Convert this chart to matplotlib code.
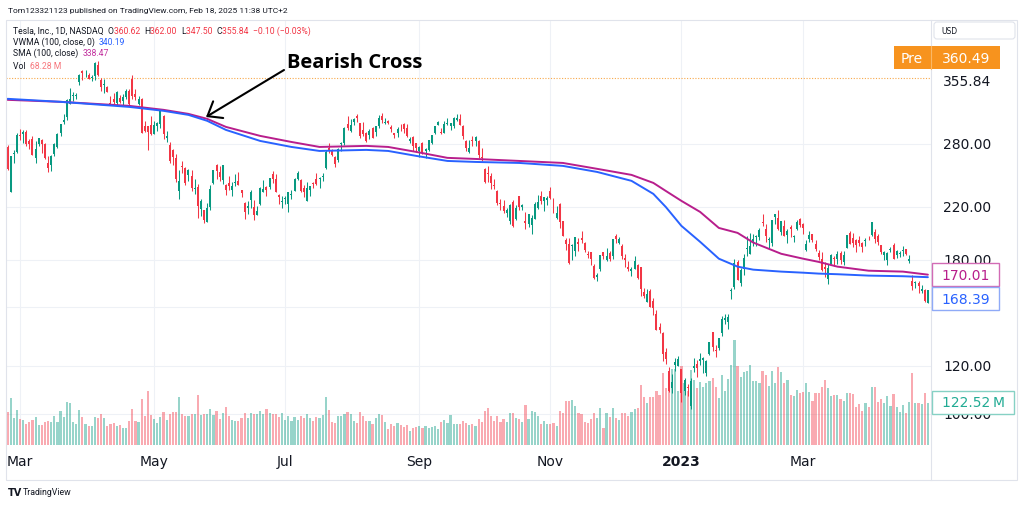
#============================================================================
# TSLA daily candles with SMA(100) / VWMA(100) and volume, TradingView style
#============================================================================
import numpy as np
import pandas as pd
import matplotlib
matplotlib.use('Agg')
import matplotlib.pyplot as plt
import matplotlib.transforms as mtransforms
from matplotlib.patches import Rectangle, FancyBboxPatch

#- Trading days shown (Feb 23 2022 .. Apr 27 2023)
holidays = ['2022-04-15', '2022-05-30', '2022-06-20', '2022-07-04', '2022-09-05',
            '2022-11-24', '2022-12-26', '2023-01-02', '2023-01-16', '2023-02-20',
            '2023-04-07']
dates = pd.bdate_range('2022-02-23', '2023-04-27', freq='C', holidays=holidays)

#- Daily OHLC and volume (millions), one row per month
open_ = [
    276.8, 233.5, 269.7, 271.7,
    289.9, 290.7, 292.9, 283.0, 285.4, 265.2, 279.8, 283.8, 280.1, 260.2, 258.4, 269.7, 277.0, 291.5, 305.0, 310.0, 326.6, 336.6, 336.0, 355.0, 369.3, 363.7, 364.9,
    360.4, 363.1, 378.8, 357.8, 350.8, 347.7, 326.8, 332.5, 327.0, 333.1, 329.7, 335.0, 343.3, 358.2, 338.3, 326.3, 331.8, 299.5, 300.0, 301.0,
    290.8, 299.5, 302.5, 311.2, 286.6, 278.8, 273.1, 265.0, 233.7, 257.8, 255.7, 249.1, 248.2, 235.7, 238.0, 218.3, 217.8, 208.0, 220.5, 241.1, 257.9,
    251.7, 244.2, 239.7, 241.3, 234.6, 241.5, 242.8, 234.5, 223.7, 219.3, 226.4, 220.0, 213.4, 222.6, 233.0, 237.3, 237.5, 249.4, 244.5, 230.5, 224.5,
    227.1, 223.0, 230.8, 233.9, 245.0, 244.0, 236.9, 225.5, 234.9, 240.5, 244.9, 245.0, 246.8, 255.1, 276.2, 272.2, 266.5, 263.8, 279.7, 280.7,
    301.8, 294.0, 305.0, 311.0, 302.7, 295.0, 292.4, 290.0, 297.3, 293.3, 300.0, 311.8, 303.4, 306.0, 299.0, 291.7, 291.5, 297.6, 302.4, 297.4, 282.8, 287.9, 280.6,
    272.6, 281.1, 272.7, 273.1, 281.3, 291.7, 300.7, 292.9, 292.2, 301.8, 299.6, 300.1, 306.9, 308.3, 299.9, 283.1, 271.8, 283.8, 283.1, 282.8, 266.2,
    254.5, 249.8, 247.9, 239.4, 233.9, 223.9, 221.0, 215.3, 208.3, 224.0, 210.0, 229.5, 219.8, 208.3, 206.4, 205.8, 210.1, 219.4, 229.8, 225.4, 226.2,
    234.1, 226.0, 211.4, 222.6, 208.7, 194.0, 190.8, 189.9, 186.0, 192.8, 195.9, 191.5, 184.0, 185.1, 175.9, 168.6, 173.6, 185.1, 180.0, 185.0, 182.4,
    197.1, 191.8, 189.4, 181.2, 175.0, 172.2, 173.8, 176.1, 174.9, 159.3, 153.4, 159.6, 154.0, 146.1, 139.3, 136.0, 126.4, 117.5, 110.4, 120.4, 120.0,
    118.5, 109.1, 110.5, 103.0, 119.0, 121.1, 122.1, 122.6, 116.6, 125.7, 136.6, 127.3, 128.7, 135.9, 143.0, 141.9, 160.0, 162.4, 178.1, 164.6,
    173.9, 187.3, 184.0, 193.0, 196.4, 196.1, 207.8, 202.2, 194.4, 191.9, 211.8, 210.8, 200.0, 205.0, 197.9, 203.9, 196.3, 202.0, 210.6,
    206.2, 186.7, 194.8, 198.5, 191.4, 185.0, 180.3, 175.1, 167.5, 177.3, 180.8, 180.4, 184.5, 178.1, 188.3, 199.3, 195.3, 194.4, 194.4, 192.0, 193.1, 195.6, 197.5,
    199.9, 197.3, 190.5, 183.1, 179.9, 186.7, 190.7, 183.0, 184.0, 186.3, 187.2, 179.1, 166.2, 164.8, 164.7, 159.8, 160.3, 152.6,
]
high = [
    278.4, 267.5, 273.2, 292.3,
    296.6, 295.5, 295.5, 285.2, 288.7, 283.3, 286.9, 284.8, 281.3, 266.9, 268.5, 280.7, 291.7, 302.6, 314.3, 332.6, 346.9, 341.5, 340.6, 366.0, 371.6, 371.3, 367.7,
    364.9, 383.3, 384.3, 359.7, 358.9, 349.5, 336.2, 340.4, 342.1, 337.6, 338.3, 345.0, 344.7, 364.1, 345.0, 336.2, 333.3, 306.0, 300.0, 311.8,
    306.1, 304.4, 318.5, 312.3, 294.1, 281.9, 275.0, 269.9, 253.2, 262.5, 256.6, 254.8, 253.5, 244.7, 240.5, 226.7, 218.0, 223.1, 239.6, 253.3, 259.6,
    257.3, 258.7, 240.0, 247.5, 242.2, 249.8, 251.9, 234.8, 224.0, 224.8, 235.2, 226.0, 221.0, 238.0, 244.1, 238.5, 246.1, 252.1, 249.9, 231.2, 229.5,
    229.5, 233.1, 234.6, 245.6, 252.2, 245.0, 239.8, 242.1, 238.7, 242.0, 250.5, 247.1, 250.7, 273.3, 280.8, 274.3, 267.3, 275.9, 281.7, 298.3,
    311.9, 307.8, 309.6, 313.6, 302.8, 305.0, 292.6, 296.3, 298.9, 300.0, 313.1, 314.7, 309.7, 306.5, 300.4, 291.7, 298.8, 302.1, 303.0, 302.0, 287.7, 288.5, 281.3,
    277.6, 282.4, 276.0, 283.8, 289.5, 299.9, 305.5, 297.4, 306.0, 309.1, 303.7, 309.8, 313.8, 313.8, 301.3, 284.5, 284.1, 288.7, 289.0, 283.7, 275.6,
    255.2, 257.5, 250.9, 244.6, 234.6, 227.0, 225.8, 219.3, 223.0, 226.3, 221.9, 229.8, 222.9, 215.6, 214.7, 213.5, 224.4, 230.6, 233.8, 228.9, 229.9,
    237.4, 227.9, 221.2, 223.8, 208.9, 195.2, 195.9, 191.0, 196.5, 195.7, 200.8, 192.6, 186.2, 185.2, 176.8, 170.9, 183.6, 185.2, 188.5, 186.4, 194.8,
    198.9, 196.3, 191.3, 183.7, 179.4, 175.2, 182.5, 177.4, 175.1, 161.6, 160.9, 161.0, 155.3, 148.5, 141.3, 136.6, 128.6, 119.7, 116.3, 123.6, 124.5,
    118.8, 114.6, 111.8, 114.4, 123.5, 122.8, 126.0, 124.1, 122.6, 131.7, 136.7, 130.0, 133.5, 145.4, 146.5, 146.4, 161.4, 180.7, 179.8, 174.3,
    183.8, 196.8, 199.0, 198.2, 197.5, 203.0, 214.0, 206.2, 196.3, 209.8, 214.7, 217.7, 208.4, 209.7, 202.0, 205.1, 197.7, 209.4, 211.2,
    207.2, 193.8, 200.5, 198.6, 194.2, 186.5, 185.2, 178.3, 177.4, 183.8, 182.3, 186.2, 186.2, 186.4, 198.0, 200.7, 199.3, 194.6, 197.4, 192.4, 195.3, 197.3, 207.8,
    202.7, 198.7, 190.7, 186.4, 185.1, 189.2, 191.6, 186.5, 186.3, 189.7, 187.7, 183.5, 169.7, 166.0, 165.7, 163.5, 160.7, 160.5,
]
low = [
    253.7, 233.3, 260.2, 270.7,
    284.6, 281.4, 277.5, 275.1, 268.2, 260.7, 277.3, 270.1, 264.6, 252.0, 252.2, 267.4, 275.2, 289.1, 302.4, 307.3, 325.5, 329.6, 332.4, 351.2, 357.7, 361.3, 358.9,
    355.5, 357.5, 362.4, 342.6, 340.5, 340.8, 324.9, 325.5, 324.4, 327.4, 324.5, 331.8, 325.1, 332.1, 331.3, 325.1, 291.7, 292.5, 273.9, 290.0,
    290.5, 293.7, 297.7, 285.0, 282.1, 260.4, 258.3, 242.4, 226.7, 250.5, 239.7, 243.0, 233.6, 231.4, 211.0, 212.7, 206.9, 207.7, 217.9, 240.2, 244.7,
    243.5, 240.7, 230.1, 234.9, 229.1, 238.8, 239.3, 228.5, 210.5, 214.5, 219.2, 209.8, 213.2, 221.4, 233.0, 229.3, 236.1, 241.5, 232.7, 222.3, 218.9,
    222.4, 216.2, 227.2, 233.6, 244.4, 233.4, 228.4, 225.0, 229.3, 236.9, 239.6, 237.0, 243.5, 254.9, 270.7, 267.3, 256.3, 261.8, 272.6, 279.0,
    295.0, 292.7, 301.2, 305.0, 286.5, 289.1, 282.5, 285.3, 286.0, 288.7, 297.9, 302.9, 301.9, 301.9, 292.5, 286.2, 287.9, 294.6, 291.6, 287.5, 280.7, 272.7, 271.8,
    266.2, 269.1, 265.7, 272.3, 279.8, 291.3, 300.4, 290.4, 291.6, 300.7, 295.6, 297.8, 305.6, 300.6, 285.8, 272.8, 270.3, 277.5, 277.6, 265.8, 262.5,
    241.0, 242.0, 235.5, 235.4, 222.0, 218.0, 215.0, 211.5, 206.2, 204.2, 209.5, 217.3, 217.8, 202.0, 203.8, 198.6, 210.0, 218.2, 222.9, 216.4, 221.9,
    227.3, 214.8, 210.1, 203.1, 196.7, 186.8, 177.1, 180.0, 182.6, 186.3, 192.1, 185.7, 180.9, 176.6, 167.5, 166.2, 172.5, 180.6, 179.0, 178.8, 180.6,
    191.8, 191.1, 180.6, 175.3, 172.2, 169.1, 173.4, 167.5, 156.9, 155.3, 153.3, 150.0, 145.8, 137.7, 135.9, 122.3, 121.0, 108.8, 108.2, 117.5, 119.8,
    104.6, 107.5, 107.2, 101.8, 117.1, 114.9, 120.5, 117.0, 115.6, 125.0, 127.0, 124.3, 127.4, 134.3, 141.1, 138.1, 154.8, 161.2, 166.5, 162.8,
    169.9, 182.6, 183.7, 189.9, 189.6, 194.3, 204.8, 192.9, 187.6, 189.4, 206.1, 201.8, 197.5, 197.2, 191.8, 196.3, 192.8, 201.3, 203.8,
    198.5, 186.0, 192.9, 192.3, 186.1, 180.0, 172.5, 168.4, 163.9, 177.1, 176.0, 176.9, 177.3, 176.4, 188.0, 191.0, 188.7, 185.3, 189.9, 185.4, 189.4, 194.4, 197.2,
    192.2, 190.3, 183.8, 179.7, 176.1, 185.7, 180.3, 180.9, 182.0, 182.7, 183.6, 177.7, 160.6, 161.3, 158.6, 158.8, 153.1, 152.4,
]
close = [
    254.7, 266.9, 270.0, 290.1,
    288.1, 293.3, 279.8, 279.4, 268.2, 274.8, 286.3, 279.4, 265.1, 255.5, 267.3, 280.1, 290.5, 301.8, 307.1, 331.3, 333.0, 338.0, 336.9, 363.9, 366.5, 364.7, 359.2,
    361.5, 381.8, 363.8, 348.6, 352.4, 341.8, 325.3, 329.0, 340.8, 328.3, 334.8, 342.7, 325.7, 336.3, 335.0, 332.7, 292.1, 293.8, 292.5, 290.3,
    301.0, 303.1, 317.5, 291.1, 288.6, 262.4, 266.7, 244.7, 242.7, 256.5, 241.5, 253.9, 236.6, 236.5, 221.3, 225.0, 209.4, 219.6, 235.9, 253.2, 252.8,
    246.8, 258.3, 234.5, 238.3, 238.9, 241.9, 239.7, 232.2, 215.7, 220.9, 233.0, 213.1, 216.8, 237.0, 236.1, 235.1, 245.7, 244.9, 232.7, 228.5, 224.5,
    227.3, 233.1, 231.7, 244.5, 250.8, 234.3, 233.1, 237.0, 238.3, 240.1, 240.5, 245.5, 247.5, 271.7, 272.2, 268.4, 258.9, 274.8, 280.9, 297.1,
    297.3, 300.6, 307.4, 308.6, 288.2, 290.4, 283.3, 294.4, 286.6, 300.0, 309.3, 306.6, 304.0, 302.9, 296.7, 289.9, 296.5, 297.1, 296.1, 288.1, 284.8, 277.7, 275.6,
    277.2, 270.2, 274.4, 283.7, 289.3, 299.7, 304.4, 292.1, 302.6, 303.8, 303.4, 309.1, 308.7, 300.8, 288.6, 275.3, 276.0, 282.9, 287.8, 268.2, 265.3,
    242.4, 249.4, 240.8, 238.1, 223.1, 223.0, 216.5, 217.2, 221.7, 205.0, 219.4, 220.2, 222.0, 207.3, 214.4, 211.3, 222.4, 224.6, 225.1, 228.5, 227.5,
    227.8, 215.0, 215.3, 207.5, 197.1, 191.3, 177.6, 190.7, 196.0, 191.0, 194.4, 186.9, 183.2, 180.2, 167.9, 169.9, 183.2, 182.9, 182.9, 180.8, 194.7,
    194.7, 194.9, 182.5, 179.8, 174.0, 173.4, 179.1, 167.8, 161.0, 156.8, 157.7, 150.2, 149.9, 137.8, 137.6, 125.4, 123.2, 109.1, 112.7, 121.8, 123.2,
    108.1, 113.6, 110.3, 113.1, 119.8, 118.9, 123.2, 123.6, 122.4, 131.5, 128.8, 127.2, 133.4, 143.8, 143.9, 144.4, 160.3, 177.9, 166.7, 173.2,
    181.4, 188.3, 190.0, 194.8, 196.8, 201.3, 207.3, 196.9, 194.6, 209.3, 214.2, 202.0, 208.3, 197.4, 200.9, 202.1, 196.9, 207.6, 205.7,
    202.8, 190.9, 197.8, 193.8, 187.7, 182.0, 172.9, 173.4, 174.5, 183.3, 180.5, 184.1, 180.1, 183.3, 197.6, 191.2, 192.2, 190.4, 191.8, 189.2, 193.9, 195.3, 207.5,
    194.8, 192.6, 185.5, 185.1, 184.5, 186.8, 180.5, 185.9, 185.0, 187.0, 184.3, 180.6, 163.0, 165.1, 162.6, 160.7, 153.8, 160.2,
]
volume = [
    96, 137, 79, 102,
    75, 73, 61, 66, 72, 82, 58, 59, 67, 71, 67, 85, 68, 100, 82, 124, 122, 68, 62, 102, 81, 60, 55,
    54, 83, 80, 89, 78, 55, 60, 65, 55, 58, 51, 50, 70, 105, 70, 67, 135, 86, 159, 88,
    75, 63, 82, 97, 72, 91, 96, 97, 140, 91, 85, 84, 89, 90, 145, 87, 89, 90, 105, 87, 100,
    77, 93, 110, 85, 72, 70, 70, 80, 93, 80, 93, 91, 89, 100, 90, 104, 94, 89, 90, 82, 94,
    74, 84, 71, 82, 72, 84, 78, 90, 79, 70, 82, 80, 88, 141, 103, 68, 64, 84, 85, 90,
    95, 90, 70, 65, 95, 85, 70, 70, 60, 80, 90, 88, 68, 47, 61, 55, 63, 57, 53, 57, 41, 50, 52,
    54, 50, 55, 50, 53, 54, 48, 68, 72, 64, 87, 60, 61, 62, 70, 63, 58, 61, 54, 77, 67,
    98, 109, 86, 69, 84, 68, 77, 66, 92, 94, 79, 75, 66, 117, 75, 100, 96, 85, 61, 69, 61,
    62, 63, 56, 98, 93, 128, 127, 132, 114, 92, 91, 66, 64, 76, 92, 78, 109, 50, 93, 83, 109,
    80, 73, 93, 92, 84, 97, 104, 109, 175, 140, 122, 139, 139, 159, 145, 210, 166, 208, 222, 221, 157,
    231, 180, 157, 220, 191, 167, 183, 169, 180, 186, 195, 170, 138, 203, 158, 192, 234, 307, 230, 197,
    213, 217, 232, 186, 186, 180, 215, 204, 172, 216, 181, 229, 213, 180, 191, 146, 142, 161, 153,
    156, 181, 154, 129, 151, 152, 170, 191, 167, 143, 145, 145, 134, 129, 153, 151, 150, 112, 121, 98, 123, 110, 170,
    169, 126, 133, 123, 142, 115, 150, 112, 96, 116, 92, 125, 211, 123, 123, 121, 153, 122.52,
]

#- SMA(100) and VWMA(100) at sample dates
ma_dates = ['2022-02-23', '2022-03-18', '2022-04-20', '2022-05-05', '2022-05-17', '2022-05-25',
            '2022-06-03', '2022-06-21', '2022-07-06', '2022-07-19', '2022-08-09', '2022-08-18',
            '2022-08-31', '2022-09-15', '2022-09-28', '2022-10-18', '2022-11-07', '2022-11-22',
            '2022-12-08', '2022-12-19', '2022-12-23', '2023-01-03', '2023-01-11', '2023-01-20',
            '2023-01-30', '2023-02-06', '2023-02-17', '2023-03-01', '2023-03-08', '2023-03-16',
            '2023-03-30', '2023-04-17', '2023-04-27']
sma_vals = [331.3, 328.8, 323.8, 318.9, 314.0, 308.1, 298.8, 288.7, 282.1, 276.8, 277.9, 276.8,
            271.6, 265.5, 264.4, 262.4, 260.4, 254.6, 248.8, 241.3, 234.0, 225.3, 216.0, 203.2,
            199.4, 192.2, 184.1, 180.7, 178.5, 175.3, 172.6, 172.0, 170.01]
vwma_vals = [332.6, 328.8, 322.5, 317.7, 312.8, 305.8, 295.4, 283.2, 276.8, 272.6, 273.7, 272.6,
             267.5, 262.4, 261.4, 260.4, 257.5, 251.6, 243.2, 231.4, 220.1, 204.8, 192.7, 180.7,
             175.3, 173.3, 172.0, 171.3, 170.7, 170.3, 169.4, 169.0, 168.39]

#- Axis labels
price_ticks = [280, 220, 180, 120, 100]
grid_prices = [100, 120, 150, 180, 220, 280]
tick_months = ['2022-03', '2022-05', '2022-07', '2022-09', '2022-11', '2023-01', '2023-03']
tick_labels = ['Mar', 'May', 'Jul', 'Sep', 'Nov', '2023', 'Mar']
pre_price = 360.49
last_price = 355.84

assert len(dates) == len(open_) == len(high) == len(low) == len(close) == len(volume)

GREEN = '#089981'
RED = '#F23645'
BLUE = '#2962FF'
MAGENTA = '#B81E8C'
TXT = '#131722'
GRID = '#EEF1F6'
ORANGE = '#F7931E'

o = np.array(open_); h = np.array(high); l = np.array(low); c = np.array(close)
v = np.array(volume)
x = np.arange(len(dates))
up = c >= o
col = np.where(up, GREEN, RED)

W, H = 1024, 506
fig = plt.figure(figsize=(W / 100, H / 100), dpi=100)
fig.patch.set_facecolor('white')

# pane: pixels 6..931 horizontally, 22..446 vertically
rect = [6 / W, 1 - 446 / H, 925 / W, 424 / H]
axv = fig.add_axes(rect)
ax = fig.add_axes(rect, sharex=axv)
ax.patch.set_visible(False)

ax.set_yscale('log')
ax.set_ylim(88.75, 447.6)
ax.set_xlim(-0.49, 296.0)
axv.set_ylim(0, 1237)

#- grid lines (drawn under volume)
gtrans = mtransforms.blended_transform_factory(axv.transAxes, ax.transData)
for p in grid_prices:
    axv.plot([0, 1], [p, p], color=GRID, lw=0.8, transform=gtrans, zorder=0)
month_idx = [int(np.argmax(dates.strftime('%Y-%m') == m)) for m in tick_months]
for i in month_idx:
    axv.axvline(i, color=GRID, lw=0.8, zorder=0)

#- volume
axv.bar(x, v, width=0.7, color=col, alpha=0.42, lw=0, zorder=1)

#- pre-market dotted line
ax.axhline(pre_price, color=ORANGE, lw=0.8, ls=(0, (1, 1.5)), alpha=0.8, zorder=1)

#- moving averages
ma_x = [dates.get_loc(pd.Timestamp(d)) for d in ma_dates]
ax.plot(ma_x, sma_vals, color=MAGENTA, lw=1.4, zorder=5, solid_capstyle='round')
ax.plot(ma_x, vwma_vals, color=BLUE, lw=1.4, zorder=5, solid_capstyle='round')

#- candles
ax.vlines(x, l, h, colors=col, lw=0.75, zorder=3)
body_lo = np.minimum(o, c)
body_h = np.maximum(np.abs(c - o), body_lo * 0.003)
ax.bar(x, body_h, bottom=body_lo, width=0.64, color=col, lw=0, zorder=4)

ax.axis('off')
axv.axis('off')

#- overlay in pixel coordinates for all the chrome
ov = fig.add_axes([0, 0, 1, 1])
ov.set_xlim(0, W)
ov.set_ylim(H, 0)
ov.axis('off')
ov.set_zorder(10)

fig.canvas.draw()
rend = fig.canvas.get_renderer()


def py(p):
    return H - ax.transData.transform((0, p))[1]


def px(i):
    return ax.transData.transform((i, 100))[0]


def text_width(s, size, family):
    t = ov.text(0, 0, s, fontsize=size, family=family)
    w = t.get_window_extent(renderer=rend).width
    t.remove()
    return w


def run(x0, y0, pieces, size=6.2, family='Roboto'):
    # place coloured pieces one after another, measuring the whole prefix
    bar_w = text_width('|', size, family)
    prefix = ''
    for s, color in pieces:
        off = text_width(prefix + '|', size, family) - bar_w if prefix else 0
        ov.text(x0 + off, y0, s, color=color, fontsize=size, family=family,
                ha='left', va='center')
        prefix += s


# frame
ov.add_patch(Rectangle((6, 21), 1011, 460, fill=False, ec='#E0E3EB', lw=0.8))
ov.plot([931, 931], [21, 481], color='#E0E3EB', lw=0.8)

# header
ov.text(8, 11, 'Tom123321123 published on TradingView.com, Feb 18, 2025 11:38 UTC+2',
        fontsize=6.0, family='Roboto', color=TXT, ha='left', va='center')

# legend
run(13, 31, [('Tesla, Inc., 1D, NASDAQ  ', TXT), ('O', TXT), ('360.62  ', RED),
             ('H', TXT), ('362.00  ', RED), ('L', TXT), ('347.50  ', RED),
             ('C', TXT), ('355.84  ', RED), ('\u22120.10 (\u22120.03%)', RED)])
run(13, 42, [('VWMA (100, close, 0)  ', TXT), ('340.19', BLUE)])
run(13, 53, [('SMA (100, close)  ', TXT), ('338.47', '#C2309E')])
run(13, 66, [('Vol  ', TXT), ('68.28 M', '#F7767C')])

# annotation
ov.text(287, 63, 'Bearish Cross', fontsize=14.5, family='Open Sans', fontweight='bold',
        color='black', ha='left', va='center')
ov.annotate('', xy=(206, 118), xytext=(284, 71),
            arrowprops=dict(arrowstyle='->,head_length=0.45,head_width=0.35',
                            color='black', lw=1.5, mutation_scale=20, shrinkA=0, shrinkB=0))

# price axis labels
for p in price_ticks:
    ov.text(943, py(p), '%.2f' % p, fontsize=10, color=TXT, ha='left', va='center', zorder=1)
ov.text(943, py(last_price), '%.2f' % last_price, fontsize=10, color=TXT,
        ha='left', va='center')

# USD box
ov.add_patch(FancyBboxPatch((934, 23), 81, 17, boxstyle='round,pad=0,rounding_size=3',
                            fc='white', ec='#E0E3EB', lw=0.8))
ov.text(941, 31.5, 'USD', fontsize=5.5, color=TXT, ha='left', va='center')

# pre-market box
ov.add_patch(Rectangle((894, 47), 106, 23, fc=ORANGE, ec='none', zorder=3))
ov.plot([931, 931], [47, 70], color='#FBB866', lw=0.8, zorder=4)
ov.text(912, 58.5, 'Pre', fontsize=10, color='white', ha='center', va='center', zorder=5)
ov.text(966, 58.5, '%.2f' % pre_price, fontsize=10, color='white', ha='center',
        va='center', zorder=5)

# indicator value boxes (they sit over the hidden 180 / 150 / 100 labels)
boxes = [(264, 67, '170.01', MAGENTA, '#D26BB5'),
         (288, 67, '168.39', BLUE, '#8FAAF7'),
         (392, 82, '122.52\u2009M', '#22AB94', '#86D1C4')]
for top, wbox, s, tc, ec in boxes:
    ov.add_patch(Rectangle((932, top), wbox, 23, fc='white', ec=ec, lw=1.0, zorder=3))
    ov.text(932 + wbox / 2, top + 11.5, s, fontsize=10, color=tc, ha='center',
            va='center', zorder=5)

# time axis labels
for i, s in zip(month_idx, tick_labels):
    ov.text(px(i), 462, s, fontsize=10, color=TXT, ha='center', va='center',
            fontweight='bold' if s.isdigit() else 'normal')

# footer logo
ov.text(8, 493, 'TV', fontsize=7, fontweight='heavy', color=TXT, ha='left', va='center')
ov.text(23, 493, 'TradingView', fontsize=6.3, family='Roboto', color=TXT,
        ha='left', va='center')

plt.savefig('out.png', dpi=100, facecolor='white')
